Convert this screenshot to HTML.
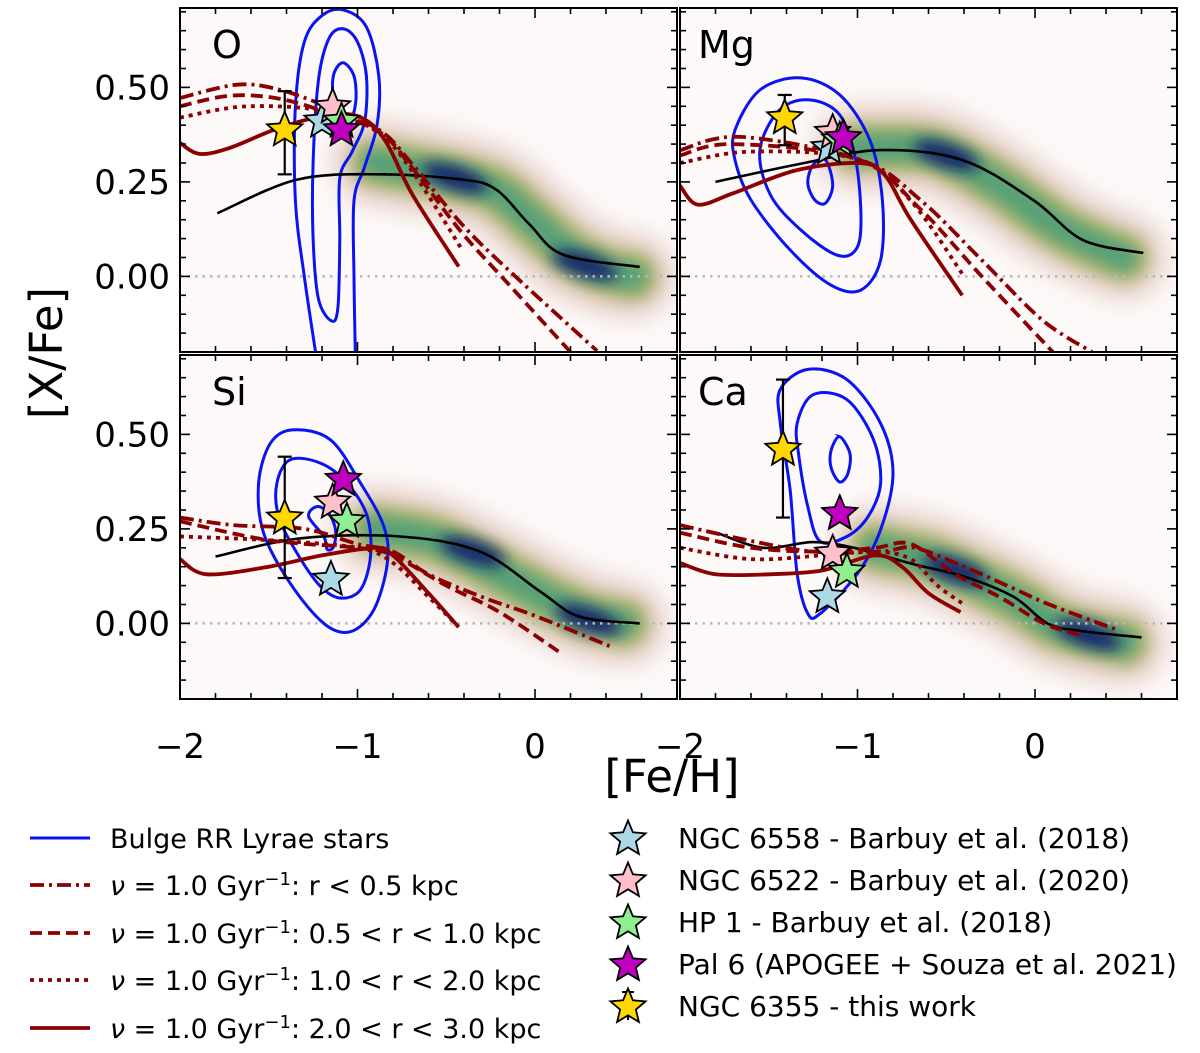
<!DOCTYPE html>
<html><head><meta charset="utf-8">
<style>
html,body{margin:0;padding:0;background:#fff;}
svg{display:block;font-family:"DejaVu Sans","Liberation Sans",sans-serif;}
</style></head>
<body>
<svg id="chart" width="1200" height="1053" viewBox="0 0 1200 1053" xmlns="http://www.w3.org/2000/svg">
<defs>
<filter id="blurA" filterUnits="userSpaceOnUse" x="0" y="0" width="1200" height="1053"><feGaussianBlur stdDeviation="12"/></filter>
<filter id="blurB" filterUnits="userSpaceOnUse" x="0" y="0" width="1200" height="1053"><feGaussianBlur stdDeviation="7"/></filter>
<filter id="blurC" filterUnits="userSpaceOnUse" x="0" y="0" width="1200" height="1053"><feGaussianBlur stdDeviation="7"/></filter>
</defs>
<g id="panels"></g>
<text x="0" y="0" transform="translate(62,353) rotate(-90)" text-anchor="middle" font-size="45">[X/Fe]</text>
<text x="672" y="792" text-anchor="middle" font-size="45">[Fe/H]</text>
<g id="legend"></g>
</svg>
<script>
// ---------- data ----------
const panelNames = ["O","Mg","Si","Ca"];
const xTicks = [-2,-1,0];
const yTicks = [0.5,0.25,0.0];
const yTickLabels = ["0.50","0.25","0.00"];

// black model line
const blackFe = [
 [-1.79,-1.34,-0.87,-0.41,-0.22,-0.03,0.16,0.59],
 [-1.80,-1.30,-0.87,-0.41,-0.01,0.27,0.61],
 [-1.80,-1.32,-0.76,-0.31,0.03,0.25,0.59],
 [-1.79,-1.53,-1.25,-1.02,-0.68,-0.40,-0.12,0.07,0.26,0.60]];
const blackX = [
 [0.167,0.256,0.27,0.256,0.23,0.137,0.057,0.025],
 [0.25,0.30,0.334,0.308,0.202,0.096,0.062],
 [0.177,0.225,0.23,0.19,0.084,0.018,0.0],
 [0.239,0.20,0.215,0.20,0.156,0.124,0.07,0.0,-0.02,-0.037]];

// red model curves: dashdot, dashed, dotted, solid
const rdFe = [
 [[-2,-1.68,-1.44,-1.15,-0.87,-0.69,-0.41,-0.12,0.35],
  [-2,-1.72,-1.44,-1.15,-0.87,-0.68,-0.42,-0.15,0.2],
  [-2,-1.62,-1.15,-0.87,-0.68,-0.41],
  [-2,-1.89,-1.72,-1.44,-1.15,-0.97,-0.84,-0.69,-0.43]],
 [[-2,-1.66,-0.98,-0.64,-0.30,0.04,0.32],
  [-2,-1.7,-1.0,-0.65,-0.3,0.1],
  [-2,-1.6,-1.0,-0.7,-0.4],
  [-2,-1.9,-1.7,-1.35,-1.0,-0.85,-0.7,-0.41]],
 [[-2,-1.7,-1.3,-1.0,-0.8,-0.6,-0.3,0.0,0.42],
  [-2,-1.5,-1.0,-0.8,-0.5,-0.2,0.15],
  [-2,-1.5,-1.0,-0.8,-0.6,-0.45],
  [-2,-1.85,-1.5,-1.2,-0.9,-0.8,-0.6,-0.43]],
 [[-2,-1.62,-1.25,-0.87,-0.68,-0.4,-0.11,0.08,0.45],
  [-2,-1.6,-1.2,-0.9,-0.7,-0.45,-0.2,0.05,0.25],
  [-2,-1.6,-1.2,-0.9,-0.7,-0.55,-0.4],
  [-2,-1.8,-1.5,-1.2,-0.9,-0.75,-0.6,-0.42]]];
const rdX = [
 [[0.472,0.507,0.494,0.445,0.385,0.296,0.137,0.004,-0.197],
  [0.45,0.478,0.47,0.43,0.38,0.28,0.12,-0.02,-0.2],
  [0.42,0.45,0.435,0.375,0.27,0.07],
  [0.353,0.324,0.34,0.393,0.428,0.418,0.356,0.216,0.026]],
 [[0.334,0.369,0.308,0.2,0.043,-0.115,-0.2],
  [0.32,0.35,0.31,0.18,0.0,-0.2],
  [0.30,0.33,0.31,0.2,0.0],
  [0.24,0.19,0.22,0.28,0.30,0.27,0.15,-0.05]],
 [[0.28,0.26,0.25,0.21,0.19,0.13,0.07,0.02,-0.06],
  [0.27,0.22,0.2,0.18,0.1,0.03,-0.08],
  [0.23,0.22,0.2,0.16,0.07,0.0],
  [0.17,0.13,0.15,0.18,0.2,0.18,0.08,-0.01]],
 [[0.26,0.22,0.19,0.19,0.20,0.15,0.09,0.05,-0.015],
  [0.24,0.2,0.19,0.2,0.21,0.13,0.07,0.0,-0.03],
  [0.2,0.17,0.18,0.19,0.17,0.1,0.05],
  [0.16,0.13,0.13,0.14,0.18,0.15,0.08,0.03]]];

// blue RR Lyrae contours
const contO1 = [[-1.22,-0.25],[-1.30,0.0],[-1.35,0.2],[-1.35,0.45],[-1.30,0.62],[-1.20,0.69],[-1.08,0.705],[-0.95,0.66],[-0.88,0.53],[-0.89,0.40],[-0.96,0.29],[-1.02,0.2],[-1.02,0.0],[-1.01,-0.25]];
const contO2 = [[-1.145,-0.118],[-1.22,-0.06],[-1.25,0.1],[-1.25,0.3],[-1.22,0.52],[-1.16,0.63],[-1.08,0.655],[-1.0,0.62],[-0.95,0.53],[-0.96,0.41],[-1.03,0.33],[-1.10,0.26],[-1.10,0.1],[-1.11,-0.08]];
const contO3 = [[-1.08,0.565],[-1.02,0.53],[-1.01,0.46],[-1.05,0.40],[-1.11,0.42],[-1.14,0.49],[-1.13,0.54]];
const contMg1 = [[-1.69,0.387],[-1.55,0.493],[-1.32,0.525],[-1.10,0.48],[-0.93,0.36],[-0.86,0.202],[-0.87,0.043],[-0.98,-0.036],[-1.15,-0.023],[-1.38,0.07],[-1.60,0.202],[-1.69,0.308]];
const contMg2 = [[-1.55,0.334],[-1.44,0.44],[-1.27,0.467],[-1.10,0.427],[-1.01,0.308],[-0.98,0.149],[-1.01,0.07],[-1.12,0.057],[-1.32,0.123],[-1.49,0.215]];
const contMg3 = [[-1.25,0.295],[-1.18,0.308],[-1.14,0.242],[-1.18,0.194],[-1.24,0.202],[-1.28,0.247]];
const contSi1 = [[-1.36,0.512],[-1.153,0.486],[-0.983,0.371],[-0.851,0.256],[-0.832,0.159],[-0.908,0.036],[-1.04,-0.022],[-1.19,0.0],[-1.379,0.106],[-1.529,0.239],[-1.557,0.371],[-1.49,0.477]];
const contSi2 = [[-1.379,0.433],[-1.209,0.424],[-1.058,0.371],[-0.945,0.283],[-0.927,0.177],[-0.983,0.089],[-1.096,0.067],[-1.209,0.098],[-1.341,0.186],[-1.444,0.283],[-1.454,0.371]];
const contSi3 = [[-1.275,0.283],[-1.228,0.309],[-1.162,0.291],[-1.124,0.248],[-1.134,0.203],[-1.171,0.196],[-1.19,0.23]];
const contCa1 = [[-1.435,0.619],[-1.28,0.672],[-1.06,0.645],[-0.87,0.529],[-0.80,0.397],[-0.87,0.248],[-1.0,0.132],[-1.21,0.026],[-1.28,0.026],[-1.34,0.132],[-1.38,0.354],[-1.435,0.529]];
const contCa2 = [[-1.34,0.529],[-1.25,0.605],[-1.06,0.592],[-0.91,0.486],[-0.87,0.37],[-0.94,0.283],[-1.06,0.23],[-1.21,0.217],[-1.28,0.309],[-1.33,0.442]];
const contCa3 = [[-1.10,0.494],[-1.05,0.46],[-1.04,0.43],[-1.06,0.39],[-1.10,0.374],[-1.14,0.40],[-1.155,0.434],[-1.14,0.47]];
const contours = [[contO1,contO2,contO3],[contMg1,contMg2,contMg3],[contSi1,contSi2,contSi3],[contCa1,contCa2,contCa3]];

// density ridge and peaks
const ridges = [
 [[-0.9,0.30],[-0.6,0.275],[-0.4,0.255],[-0.2,0.22],[0.0,0.14],[0.2,0.06],[0.4,0.015],[0.55,0.0]],
 [[-1.0,0.34],[-0.7,0.34],[-0.5,0.32],[-0.2,0.24],[0.1,0.14],[0.3,0.09],[0.5,0.05]],
 [[-0.9,0.25],[-0.6,0.225],[-0.4,0.185],[-0.2,0.135],[0.1,0.06],[0.3,0.02],[0.5,0.0]],
 [[-0.9,0.20],[-0.6,0.17],[-0.4,0.13],[-0.1,0.06],[0.1,0.0],[0.3,-0.03],[0.5,-0.05]]];
const peaks = [[[-0.45,0.26],[0.28,0.03]],[[-0.5,0.32]],[[-0.35,0.19],[0.3,0.01]],[[-0.45,0.14],[0.3,-0.03]]];

// globular cluster stars
const starNames = ["ngc6558","ngc6522","hp1","pal6","ngc6355"];
const starColors = ["#add8e6","#ffc0cb","#90ee90","#c000c0","#ffd700"];
const starsO = [[-1.20,0.41],[-1.14,0.448],[-1.09,0.41],[-1.09,0.387],[-1.41,0.387]];
const starsMg = [[-1.16,0.34],[-1.14,0.38],[-1.10,0.36],[-1.08,0.366],[-1.41,0.419]];
const starsSi = [[-1.15,0.116],[-1.14,0.32],[-1.06,0.27],[-1.08,0.38],[-1.41,0.278]];
const starsCa = [[-1.17,0.07],[-1.14,0.185],[-1.06,0.137],[-1.10,0.29],[-1.42,0.46]];
const stars = [starsO,starsMg,starsSi,starsCa];
const errLo = [0.27,0.347,0.12,0.28];
const errHi = [0.49,0.48,0.441,0.645];

// ---------- geometry ----------
const NS="http://www.w3.org/2000/svg";
const pLeft=[180,680,180,680], pTop=[8,8,355,355], PW=497, PH=344;
const XMIN=-2, XMAX=0.8, YMIN=-0.2, YMAX=0.71;
function X(p,v){return pLeft[p]+(v-XMIN)/(XMAX-XMIN)*PW;}
function Y(p,v){return pTop[p]+(YMAX-v)/(YMAX-YMIN)*PH;}
function el(tag,attrs,parent){const e=document.createElementNS(NS,tag);for(const k in attrs)e.setAttribute(k,attrs[k]);parent.appendChild(e);return e;}
function smooth(pts,closed){
  const n=pts.length;let d="M"+pts[0][0]+","+pts[0][1];
  const get=i=>closed?pts[(i+n)%n]:pts[Math.max(0,Math.min(n-1,i))];
  const segs=closed?n:n-1;
  for(let i=0;i<segs;i++){
    const p0=get(i-1),p1=get(i),p2=get(i+1),p3=get(i+2);
    const c1=[p1[0]+(p2[0]-p0[0])/6,p1[1]+(p2[1]-p0[1])/6];
    const c2=[p2[0]-(p3[0]-p1[0])/6,p2[1]-(p3[1]-p1[1])/6];
    d+=" C"+c1[0].toFixed(1)+","+c1[1].toFixed(1)+" "+c2[0].toFixed(1)+","+c2[1].toFixed(1)+" "+p2[0].toFixed(1)+","+p2[1].toFixed(1);
  }
  return d+(closed?" Z":"");
}
function starPath(cx,cy,R){
  const r=R*0.45;let d="";
  for(let i=0;i<10;i++){const a=-Math.PI/2+i*Math.PI/5;const rr=i%2?r:R;d+=(i?"L":"M")+(cx+rr*Math.cos(a)).toFixed(1)+","+(cy+rr*Math.sin(a)).toFixed(1);}
  return d+"Z";
}
const dashes=["14,5,3,5","12,6","4,5",""];
const dashNames=["dashdot","dashed","dotted","solid"];
const root=document.getElementById("panels");

for(let p=0;p<4;p++){
  const g=el("g",{},root);
  
  
  const cp=el("clipPath",{id:"clip"+p},g);
  el("rect",{x:pLeft[p],y:pTop[p],width:PW,height:PH},cp);
  const bg=el("rect",{x:pLeft[p],y:pTop[p],width:PW,height:PH,fill:"#fdf9f9"},g);
  
  
  const c=el("g",{"clip-path":"url(#clip"+p+")"},g);
  // density
  const rp=ridges[p].map(q=>[X(p,q[0]),Y(p,q[1])]);
  const dens=el("g",{},c);
  
  
  el("path",{d:smooth(rp,false),fill:"none",stroke:"#c9a08e","stroke-width":84,"stroke-linecap":"round",opacity:0.5,filter:"url(#blurA)"},dens);
  el("path",{d:smooth(rp,false),fill:"none",stroke:"#a8b36a","stroke-width":50,"stroke-linecap":"round",opacity:0.95,filter:"url(#blurB)"},dens);
  el("path",{d:smooth(rp,false),fill:"none",stroke:"#4a9e78","stroke-width":28,"stroke-linecap":"round",opacity:0.85,filter:"url(#blurB)"},dens);
  peaks[p].forEach(q=>{
    const e=el("ellipse",{cx:X(p,q[0]),cy:Y(p,q[1]),rx:34,ry:12,fill:"#0a1f6a",opacity:0.9,filter:"url(#blurC)",transform:"rotate(18 "+X(p,q[0])+" "+Y(p,q[1])+")"},dens);
    
    
  });
  // zero line
  const z=el("line",{x1:pLeft[p],x2:pLeft[p]+PW,y1:Y(p,0),y2:Y(p,0),stroke:"#b8b8b8","stroke-width":2.5,"stroke-dasharray":"2.5,5"},c);
  
  
  // contours
  contours[p].forEach((ct,i)=>{
    const pts=ct.map(q=>[X(p,q[0]),Y(p,q[1])]);
    const open=(p===0&&i===0);
    const e=el("path",{d:smooth(pts,!open),fill:"none",stroke:"#0a14f0","stroke-width":3},c);
    
    
  });
  // black line
  const bp=blackFe[p].map((f,i)=>[X(p,f),Y(p,blackX[p][i])]);
  const bl=el("path",{d:smooth(bp,false),fill:"none",stroke:"#000","stroke-width":2.6},c);
  
  
  // red curves
  for(let k=0;k<4;k++){
    const pts=rdFe[p][k].map((f,i)=>[X(p,f),Y(p,rdX[p][k][i])]);
    const e=el("path",{d:smooth(pts,false),fill:"none",stroke:"#8b0000","stroke-width":3.8,"stroke-dasharray":dashes[k]},c);
    
    
  }
  // error bar
  const sy=stars[p][4];
  const eb=el("g",{stroke:"#000","stroke-width":2.2,fill:"none"},c);
  
  
  const ex=X(p,sy[0]);
  el("line",{x1:ex,x2:ex,y1:Y(p,errLo[p]),y2:Y(p,errHi[p])},eb);
  el("line",{x1:ex-7,x2:ex+7,y1:Y(p,errLo[p]),y2:Y(p,errLo[p])},eb);
  el("line",{x1:ex-7,x2:ex+7,y1:Y(p,errHi[p]),y2:Y(p,errHi[p])},eb);
  // stars
  [4,0,1,2,3].forEach(s=>{
    const q=stars[p][s];
    const e=el("path",{d:starPath(X(p,q[0]),Y(p,q[1]),18.5),fill:starColors[s],stroke:"#000","stroke-width":1.8,"stroke-linejoin":"miter"},c);
    
    
  });
  // frame
  const fr=el("rect",{x:pLeft[p],y:pTop[p],width:PW,height:PH,fill:"none",stroke:"#000","stroke-width":2},g);
  
  
  // ticks
  const tk=el("g",{stroke:"#000","stroke-width":1.6},g);
  for(let v=-2;v<=0.8001;v+=0.2){
    const major=Math.abs(v-Math.round(v))<1e-6, L=major?10:6, x=X(p,v);
    el("line",{x1:x,x2:x,y1:pTop[p]+PH,y2:pTop[p]+PH-L},tk);
    el("line",{x1:x,x2:x,y1:pTop[p],y2:pTop[p]+L},tk);
  }
  for(let i=-4;i<=14;i++){
    const v=i*0.05; if(v<YMIN-1e-6||v>YMAX) continue;
    const major=(i%5===0), L=major?10:6, y=Y(p,v);
    el("line",{x1:pLeft[p],x2:pLeft[p]+L,y1:y,y2:y},tk);
    el("line",{x1:pLeft[p]+PW,x2:pLeft[p]+PW-L,y1:y,y2:y},tk);
  }
  // panel label
  const lb=el("text",{x:pLeft[p]+(p%2?18:32),y:pTop[p]+50,"font-size":38},g);
  lb.textContent=panelNames[p];
  
  
  // tick labels
  if(p>=2){
    xTicks.forEach(v=>{
      const t=el("text",{x:X(p,v),y:758,"text-anchor":"middle","font-size":34},g);
      t.textContent=(v<0?"\u2212":"")+Math.abs(v);
      
      
    });
  }
  if(p%2===0){
    yTicks.forEach((v,i)=>{
      const t=el("text",{x:170,y:Y(p,v)+12,"text-anchor":"end","font-size":34},g);
      t.textContent=yTickLabels[i];
      
      
    });
  }
}

// ---------- legend ----------
const lg=document.getElementById("legend");
const leftLabels=["Bulge RR Lyrae stars","r < 0.5 kpc","0.5 < r < 1.0 kpc","1.0 < r < 2.0 kpc","2.0 < r < 3.0 kpc"];
const leftY=[838,885,933,980,1028];
leftLabels.forEach((t,i)=>{
  const y=leftY[i];
  const row=el("g",{},lg);
  
  
  if(i===0) el("line",{x1:30,x2:90,y1:y,y2:y,stroke:"#0a14f0","stroke-width":3},row);
  else el("line",{x1:30,x2:90,y1:y,y2:y,stroke:"#8b0000","stroke-width":3.8,"stroke-dasharray":dashes[i-1]},row);
  const tx=el("text",{x:110,y:y+10,"font-size":27},row);
  if(i===0) tx.textContent=t;
  else tx.innerHTML='<tspan font-style="italic">\u03bd</tspan> = 1.0 Gyr<tspan dy="-10" font-size="18">\u22121</tspan><tspan dy="10">: '+t.replace(/</g,"&lt;")+'</tspan>';
});
const rightLabels=["NGC 6558 - Barbuy et al. (2018)","NGC 6522 - Barbuy et al. (2020)","HP 1 - Barbuy et al. (2018)","Pal 6 (APOGEE + Souza et al. 2021)","NGC 6355 - this work"];
const rightY=[838,880,922,964,1006];
rightLabels.forEach((t,i)=>{
  const y=rightY[i];
  const row=el("g",{},lg);
  
  
  if(i===4){
    el("line",{x1:628,x2:628,y1:y-14,y2:y+14,stroke:"#000","stroke-width":2},row);
    el("line",{x1:622,x2:634,y1:y-14,y2:y-14,stroke:"#000","stroke-width":2},row);
  }
  el("path",{d:starPath(628,y+1,18.5),fill:starColors[i],stroke:"#000","stroke-width":1.8},row);
  const tx=el("text",{x:678,y:y+10,"font-size":28},row);
  tx.textContent=t;
});
</script>
</body></html>
